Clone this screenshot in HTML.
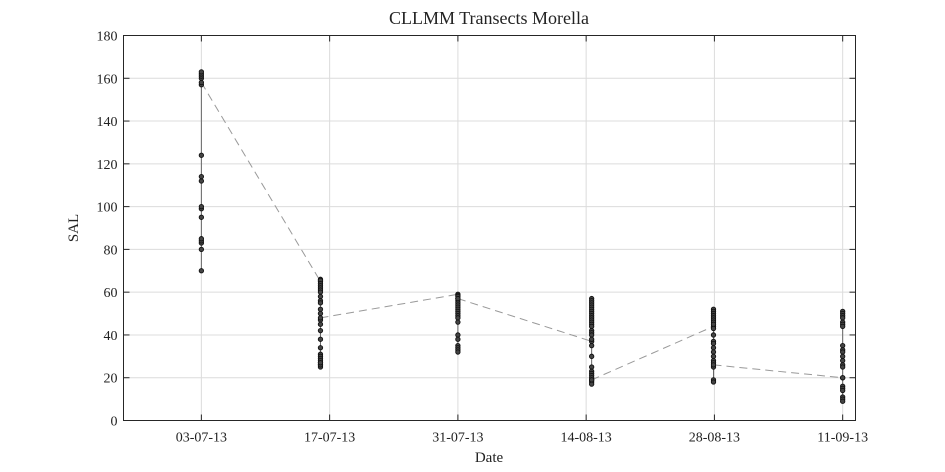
<!DOCTYPE html>
<html><head><meta charset="utf-8"><style>
html,body{margin:0;padding:0;background:#fff;}
svg{display:block;font-family:"Liberation Serif",serif;}
</style></head><body>
<svg id="chart" width="945" height="472" viewBox="0 0 945 472">
<rect x="0" y="0" width="945" height="472" fill="#fff"/>
<g id="grid"></g>
<g id="lines"></g>
<g id="marks"></g>
<rect x="123.5" y="35.5" width="732" height="385" fill="none" stroke="#262626" stroke-width="1"/>
<g id="ticks"></g>
<text x="489" y="24" font-size="18" text-anchor="middle" fill="#222">CLLMM Transects Morella</text>
<text x="489" y="462" font-size="15" text-anchor="middle" fill="#222">Date</text>
<text x="78" y="228" font-size="15" text-anchor="middle" fill="#222" transform="rotate(-90 78 228)">SAL</text>
</svg>
<script>
const xTickDays=[0,14,28,42,56,70];
const xTickLabels=["03-07-13","17-07-13","31-07-13","14-08-13","28-08-13","11-09-13"];
const yTicks=[0,20,40,60,80,100,120,140,160,180];
const clusterDays=[0,13,28,42.6,55.9,70];
const c1=[70,80,83,84,85,95,99,100,112,114,124,157,160,161,162,163,158];
const c2=[65,66,65.5,64,63,62,61,60,58,56,55,52,50,47,45,42,38,34,31,30,29,28,27,26,25,26,27,48];
const c3=[59,58.5,58,57,56,55,54,53,52,51,50,49,48,46,40,38,35,34,33,32,57];
const c4=[37,57,56,55,54,53,52,51,50,49,48,47,46,45,44,42,41,40,38,35,30,25,23,22,21,20,19,18,17,19];
const c5=[44,52,51,50,49,48,47,46,45,43,40,37,36,34,32,30,28,27,25,19,18,26];
const c6=[20,51,50,49,48,46,45,44,35,33,32,30,28,26,25,16,15,14,11,10,9,20];
const clusters=[c1,c2,c3,c4,c5,c6];

const X0=123.5,X1=855.5,Y0=420.5,Y1=35.5,D0=-8.5,D1=71.4;
const xs=d=>X0+(d-D0)/(D1-D0)*(X1-X0);
const ys=v=>Y0-(v/180)*(Y0-Y1);
const NS="http://www.w3.org/2000/svg";
function mk(tag,attrs,parent){const e=document.createElementNS(NS,tag);for(const k in attrs)e.setAttribute(k,attrs[k]);parent.appendChild(e);return e;}
const grid=document.getElementById('grid'),ticks=document.getElementById('ticks'),lines=document.getElementById('lines'),marks=document.getElementById('marks');
yTicks.forEach(v=>{
  const y=ys(v);
  const g=mk('line',{x1:X0,x2:X1,y1:y,y2:y,stroke:'#dcdcdc','stroke-width':1},grid);
  
  
  const t=mk('line',{x1:X0,x2:X0+6,y1:y,y2:y,stroke:'#262626'},ticks);
  
  
  const t2=mk('line',{x1:X1-6,x2:X1,y1:y,y2:y,stroke:'#262626'},ticks);
  
  
  const l=mk('text',{x:X0-6,y:y+5,'font-size':14,'text-anchor':'end',fill:'#222'},ticks);
  l.textContent=v;
  
  
});
xTickDays.forEach((d,i)=>{
  const x=xs(d);
  const g=mk('line',{x1:x,x2:x,y1:Y1,y2:Y0,stroke:'#dcdcdc','stroke-width':1},grid);
  
  
  const t=mk('line',{x1:x,x2:x,y1:Y0-6,y2:Y0,stroke:'#262626'},ticks);
  
  
  const t2=mk('line',{x1:x,x2:x,y1:Y1,y2:Y1+6,stroke:'#262626'},ticks);
  
  
  const l=mk('text',{x:x,y:Y0+21,'font-size':14,'text-anchor':'middle',fill:'#222'},ticks);
  l.textContent=xTickLabels[i];
  
  
});
clusters.forEach((c,i)=>{
  const x=xs(clusterDays[i]);
  const pts=c.map(v=>x+','+ys(v)).join(' ');
  const pl=mk('polyline',{points:pts,fill:'none',stroke:'#666','stroke-width':1},lines);
  
  
  if(i<clusters.length-1){
    const n=clusters[i+1];
    const dl=mk('line',{x1:x,y1:ys(c[c.length-1]),x2:xs(clusterDays[i+1]),y2:ys(n[0]),stroke:'#999','stroke-width':1,'stroke-dasharray':'8,5'},lines);
    
    
  }
  c.forEach(v=>{
    const p=mk('circle',{cx:x,cy:ys(v),r:2.2,fill:'#444',stroke:'#111','stroke-width':0.9},marks);
    
    
  });
});
</script>
</body></html>
